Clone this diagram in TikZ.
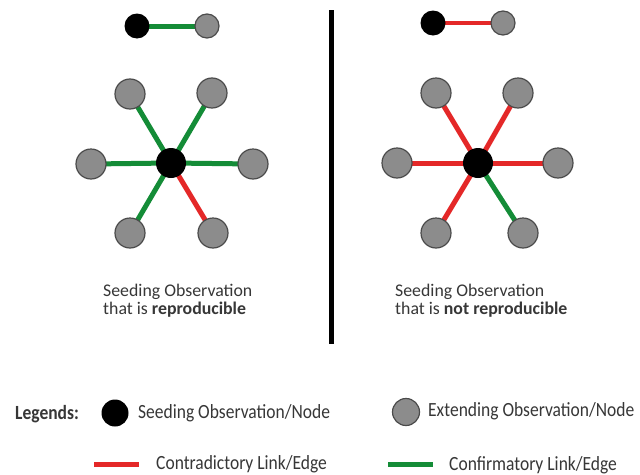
\documentclass[tikz,border=0pt]{standalone}
\usepackage{fontspec}
\usepackage{graphicx}
\setmainfont{Carlito}
\usetikzlibrary{backgrounds}
\definecolor{cred}{RGB}{228,40,40}
\definecolor{cgreen}{RGB}{20,140,55}
\definecolor{cgray}{RGB}{140,140,140}
\definecolor{cline}{RGB}{75,75,75}
\definecolor{ctext}{RGB}{55,55,55}
\newcommand{\tallt}[1]{\scalebox{1}[1.15]{#1}}
\begin{document}
\begin{tikzpicture}[x=1pt,y=-1pt,
  seednode/.style={circle,fill=black,inner sep=0pt,minimum size=#1},
  seednode/.default=30pt,
  extnode/.style={circle,fill=cgray,draw=cline,line width=1.2pt,inner sep=0pt,minimum size=#1},
  extnode/.default=30pt,
  contra/.style={draw=cred,line width=5pt},
  confirm/.style={draw=cgreen,line width=5pt},
  label/.style={font=\fontsize{17.8}{18}\selectfont,text=ctext,inner sep=0pt,align=left,anchor=north west},
  legtext/.style={font=\fontsize{17.5}{19}\selectfont,text=ctext,inner sep=0pt,anchor=base west}]
\useasboundingbox (0,0) rectangle (640,474);

% divider
\coordinate (dtop) at (331,10);
\coordinate (dbot) at (331,344);
\draw[line width=5pt,black] (dtop) -- (dbot);

% ---------- left panel ----------
\node[seednode=25pt] (LpS) at (137,26) {};
\node[extnode=24pt] (LpE) at (207,26) {};

\node[extnode] (L1) at (130,94) {};
\node[extnode] (L2) at (212,93) {};
\node[extnode] (L3) at (91,164) {};
\node[extnode] (L4) at (253,164) {};
\node[extnode] (L5) at (130,233) {};
\node[extnode] (L6) at (213,233) {};
\node[seednode] (LC) at (171,163) {};
\begin{pgfonlayer}{background}
\fill[white] (0,0) rectangle (640,474);
\draw[confirm] (LpS.center) -- (LpE.center);
\draw[confirm] (LC.center) -- (L1.center);
\draw[confirm] (LC.center) -- (L2.center);
\draw[confirm] (LC.center) -- (L3.center);
\draw[confirm] (LC.center) -- (L4.center);
\draw[confirm] (LC.center) -- (L5.center);
\draw[contra] (LC.center) -- (L6.center);
\end{pgfonlayer}

\node[label] (Ltxt) at (103,284) {Seeding Observation\\that is \textbf{reproducible}};

% ---------- right panel ----------
\node[seednode=25pt] (RpS) at (433,23) {};
\node[extnode=24pt] (RpE) at (503,23) {};

\node[extnode] (R1) at (436,93) {};
\node[extnode] (R2) at (518,93) {};
\node[extnode] (R3) at (397,163) {};
\node[extnode] (R4) at (558,163) {};
\node[extnode] (R5) at (436,233) {};
\node[extnode] (R6) at (523,233) {};
\node[seednode] (RC) at (478,163) {};
\begin{pgfonlayer}{background}
\draw[contra,line width=4.5pt] (RpS.center) -- (RpE.center);
\draw[contra] (RC.center) -- (R1.center);
\draw[contra] (RC.center) -- (R2.center);
\draw[contra] (RC.center) -- (R3.center);
\draw[contra] (RC.center) -- (R4.center);
\draw[contra] (RC.center) -- (R5.center);
\draw[confirm] (RC.center) -- (R6.center);
\end{pgfonlayer}

\node[label] (Rtxt) at (395,284) {Seeding Observation\\that is \textbf{not reproducible}};

% ---------- legend ----------
\node[legtext,font=\fontsize{17.5}{19}\selectfont\bfseries] (leg) at (15,419) {\tallt{Legends:}};
\node[seednode=27pt] (legS) at (115,413) {};
\node[legtext] (legStxt) at (138,418) {\tallt{Seeding Observation/Node}};
\node[extnode=27pt] (legE) at (406,412) {};
\node[legtext] (legEtxt) at (428,416) {\tallt{Extending Observation/Node}};

\coordinate (cr1) at (94,464);
\coordinate (cr2) at (139,464);
\draw[contra] (cr1) -- (cr2);
\node[legtext] (legCtxt) at (156,469) {\tallt{Contradictory Link/Edge}};
\coordinate (cg1) at (388,464);
\coordinate (cg2) at (433,464);
\draw[confirm] (cg1) -- (cg2);
\node[legtext] (legGtxt) at (449,470) {\tallt{Confirmatory Link/Edge}};
\end{tikzpicture}
\end{document}
